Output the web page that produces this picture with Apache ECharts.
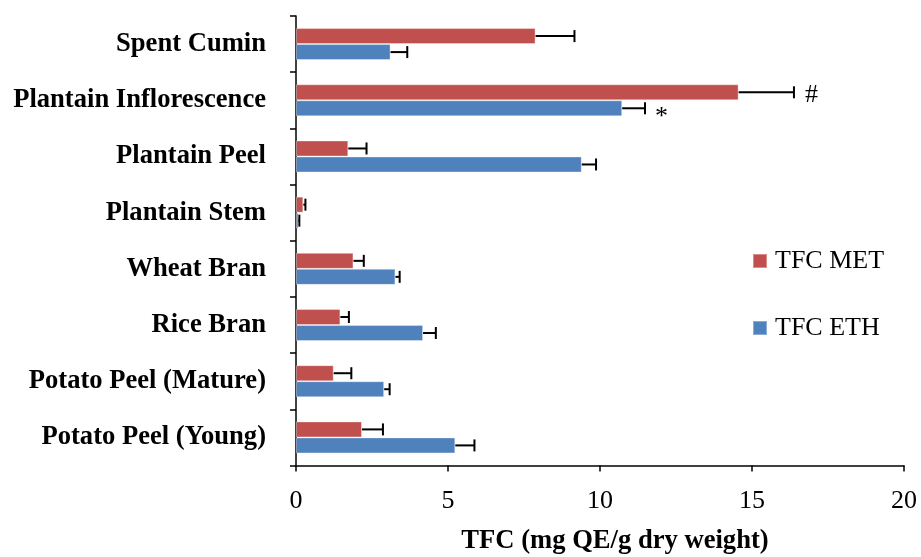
<!DOCTYPE html>
<html>
<head>
<meta charset="utf-8">
<script src="https://cdn.jsdelivr.net/npm/echarts@6/dist/echarts.min.js"></script>
<style>
  html, body { margin: 0; padding: 0; background: #fff; }
  #chart { width: 921px; height: 557px; }
</style>
</head>
<body>
<div id="chart"></div>
<script>
// Samples, top to bottom
const categories = [
  'Spent Cumin',
  'Plantain Inflorescence',
  'Plantain Peel',
  'Plantain Stem',
  'Wheat Bran',
  'Rice Bran',
  'Potato Peel (Mature)',
  'Potato Peel (Young)'
];

// Total flavonoid content, mg QE/g dry weight
const tfcMet    = [7.88, 14.56, 1.72, 0.24, 1.89, 1.46, 1.24, 2.17];
const tfcMetErr = [1.28, 1.82, 0.60, 0.07, 0.34, 0.28, 0.58, 0.69];
const tfcEth    = [3.11, 10.73, 9.40, 0.08, 3.27, 4.18, 2.90, 5.24];
const tfcEthErr = [0.55, 0.75, 0.47, 0.03, 0.14, 0.42, 0.18, 0.63];

// Significance marks placed after the error bars
const metMarks = ['', '#', '', '', '', '', '', ''];
const ethMarks = ['', '*', '', '', '', '', '', ''];

const xTicks = [0, 5, 10, 15, 20];

const serif = '"Liberation Serif", "Times New Roman", serif';
const RED = '#C0504D';
const BLUE = '#4F81BD';
const BAR_W = 16;

function errorSeries(name, values, errs, marks, offset) {
  return {
    type: 'custom',
    name: name + ' err',
    z: 5,
    silent: true,
    encode: { x: 1, y: 0 },
    data: values.map((v, i) => [i, v, errs[i], marks[i]]),
    renderItem: function (params, api) {
      const i = params.dataIndex;
      const cat = api.value(0);
      const v = api.value(1);
      const e = api.value(2);
      const mark = marks[i];
      const p0 = api.coord([v, cat]);
      const p1 = api.coord([v + e, cat]);
      const y = p0[1] + offset;
      const cap = 6;
      const style = { stroke: '#000', lineWidth: 2 };
      const children = [
        { type: 'line', shape: { x1: p0[0], y1: y, x2: p1[0], y2: y }, style: style },
        { type: 'line', shape: { x1: p1[0], y1: y - cap, x2: p1[0], y2: y + cap }, style: style }
      ];
      if (mark) {
        const isStar = mark === '*';
        children.push({
          type: 'text',
          style: {
            text: mark,
            x: p1[0] + (isStar ? 10 : 11),
            y: y + (isStar ? 9 : 3),
            fill: '#000',
            font: '26px ' + serif,
            verticalAlign: 'middle',
            align: 'left'
          }
        });
      }
      return { type: 'group', children: children };
    }
  };
}

const chart = echarts.init(document.getElementById('chart'), null, { renderer: 'canvas' });

chart.setOption({
  animation: false,
  backgroundColor: '#fff',
  grid: {
    left: 296, right: 17, top: 16, bottom: 91.5,
    containLabel: false,
    outerBoundsMode: 'none'
  },
  legend: {
    orient: 'vertical',
    left: 747,
    top: 242,
    icon: 'rect',
    itemWidth: 14,
    itemHeight: 14,
    itemGap: 39,
    data: ['TFC MET', 'TFC ETH'],
    textStyle: {
      fontFamily: serif,
      fontSize: 26,
      lineHeight: 26,
      color: '#000',
      padding: [2, 0, 0, 3]
    }
  },
  xAxis: {
    type: 'value',
    min: xTicks[0],
    max: xTicks[xTicks.length - 1],
    interval: 5,
    name: 'TFC (mg QE/g dry weight)',
    nameLocation: 'middle',
    nameGap: 62,
    nameTextStyle: {
      fontFamily: serif, fontSize: 26.6, fontWeight: 'bold', color: '#000',
      padding: [0, 0, 0, 30]
    },
    axisLine: { show: true, lineStyle: { color: '#000', width: 1.5 } },
    axisTick: { show: true, length: 6, lineStyle: { color: '#000', width: 1.5 } },
    axisLabel: { fontFamily: serif, fontSize: 26, color: '#000', margin: 23 },
    splitLine: { show: false }
  },
  yAxis: {
    type: 'category',
    inverse: true,
    data: categories,
    axisLine: { show: true, lineStyle: { color: '#000', width: 1.5 } },
    axisTick: { show: true, length: 6, lineStyle: { color: '#000', width: 1.5 } },
    axisLabel: {
      fontFamily: serif, fontSize: 26.6, fontWeight: 'bold', color: '#000', margin: 30,
      padding: [11, 0, 0, 0]
    }
  },
  series: [
    {
      name: 'TFC MET',
      type: 'bar',
      data: tfcMet,
      barWidth: BAR_W,
      barGap: '0%',
      itemStyle: { color: RED, borderColor: 'rgba(255,255,255,0.35)', borderWidth: 1 }
    },
    {
      name: 'TFC ETH',
      type: 'bar',
      data: tfcEth,
      barWidth: BAR_W,
      barGap: '0%',
      itemStyle: { color: BLUE, borderColor: 'rgba(255,255,255,0.35)', borderWidth: 1 }
    },
    errorSeries('TFC MET', tfcMet, tfcMetErr, metMarks, -BAR_W / 2),
    errorSeries('TFC ETH', tfcEth, tfcEthErr, ethMarks, BAR_W / 2)
  ]
});
</script>
</body>
</html>
